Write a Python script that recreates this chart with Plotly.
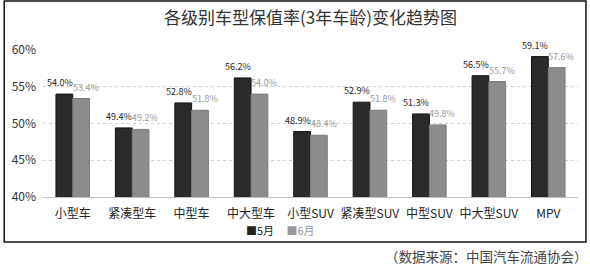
import plotly.graph_objects as go

categories = ["小型车", "紧凑型车", "中型车", "中大型车", "小型SUV", "紧凑型SUV", "中型SUV", "中大型SUV", "MPV"]
may_values = [54.0, 49.4, 52.8, 56.2, 48.9, 52.9, 51.3, 56.5, 59.1]
june_values = [53.4, 49.2, 51.8, 54.0, 48.4, 51.8, 49.8, 55.7, 57.6]
series_names = ["5月", "6月"]
y_ticks = [40, 45, 50, 55, 60]
y_tick_labels = ["40%", "45%", "50%", "55%", "60%"]
title_text = "各级别车型保值率(3年车龄)变化趋势图"
source_text = "（数据来源：中国汽车流通协会）"

W, H = 590, 267
L, R, T, B = 40, 12, 50, 70
PW, PH = W - L - R, H - T - B

def px_x(p):
    return (p - L) / PW

def px_y(p):
    return (H - B - p) / PH

FONT = "Noto Sans CJK SC, Open Sans, sans-serif"
DARK = "#2a2a2a"
LIGHT = "#8c8c8c"

fig = go.Figure()
fig.add_trace(go.Bar(x=categories, y=may_values, name=series_names[0],
                     marker=dict(color=DARK, line=dict(color="#111111", width=1))))
fig.add_trace(go.Bar(x=categories, y=june_values, name=series_names[1],
                     marker=dict(color=LIGHT, line=dict(color="#7a7a7a", width=1))))

annotations = []
for c, v in zip(categories, may_values):
    annotations.append(dict(x=c, y=v, xref="x", yref="y", text=f"{v:.1f}%",
                            showarrow=False, xanchor="center", yanchor="bottom",
                            xshift=-13, yshift=3,
                            font=dict(family=FONT, size=9, color="#222222")))
for c, v in zip(categories, june_values):
    annotations.append(dict(x=c, y=v, xref="x", yref="y", text=f"{v:.1f}%",
                            showarrow=False, xanchor="center", yanchor="bottom",
                            xshift=13, yshift=3,
                            font=dict(family=FONT, size=9, color="#9a9a9a")))

# legend (manual, compact)
annotations.append(dict(
    x=px_x(279), y=px_y(230), xref="paper", yref="paper", showarrow=False,
    xanchor="center", yanchor="middle",
    text=f"<span style='color:#222222'>■{series_names[0]}</span>&nbsp;&nbsp;&nbsp;&nbsp;&nbsp;<span style='color:#999999'>■{series_names[1]}</span>",
    font=dict(family=FONT, size=11)))

# source note
annotations.append(dict(
    x=px_x(590), y=px_y(256), xref="paper", yref="paper", showarrow=False,
    xanchor="right", yanchor="middle", text=source_text,
    font=dict(family=FONT, size=13.5, color="#444444")))

fig.update_layout(
    width=W, height=H,
    margin=dict(l=L, r=R, t=T, b=B),
    paper_bgcolor="white", plot_bgcolor="white",
    barmode="group", bargap=0.436, bargroupgap=0,
    showlegend=False,
    title=dict(text=title_text, x=0.5, xref="paper", xanchor="center",
               y=1 - 18 / H, yanchor="middle",
               font=dict(family=FONT, size=17, color="#333333")),
    font=dict(family=FONT),
    annotations=annotations,
    shapes=[dict(type="rect", xref="paper", yref="paper",
                 x0=px_x(1), x1=px_x(586), y0=px_y(242), y1=px_y(1),
                 line=dict(color="#111111", width=1.5), layer="above")],
)
fig.update_yaxes(range=[40, 60], tickvals=y_ticks, ticktext=y_tick_labels,
                 showgrid=True, gridcolor="#cfcfcf", griddash="dot", gridwidth=1,
                 zeroline=False, showline=False, ticks="",
                 ticklabelstandoff=6,
                 tickfont=dict(family=FONT, size=12, color="#333333"))
fig.update_xaxes(showline=True, linecolor="#c0c0c0", linewidth=1, ticks="",
                 showgrid=False, ticklabelstandoff=6,
                 tickfont=dict(family=FONT, size=12, color="#222222"))

fig.write_html("out.html")
